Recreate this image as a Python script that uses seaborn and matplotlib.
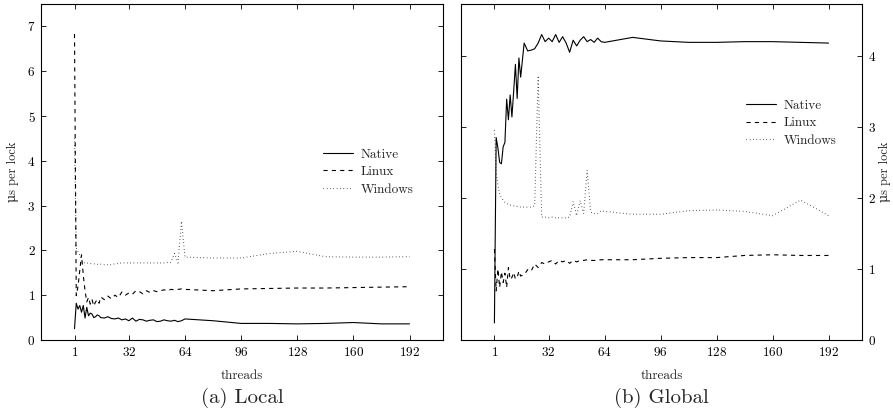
import matplotlib
matplotlib.use("Agg")
import numpy as np
import pandas as pd
import matplotlib.pyplot as plt
import seaborn as sns

threads = [1, 2, 3, 4, 5, 6, 7, 8, 9, 10, 11, 12, 13, 14, 15, 16,
           18, 20, 22, 24, 26, 28, 30, 32, 34, 36, 38, 40, 42, 44, 46, 48,
           50, 52, 54, 56, 58, 60, 62, 64,
           80, 96, 112, 128, 144, 160, 176, 192]

# (a) Local
local_native = [0.25, 0.82, 0.69, 0.77, 0.62, 0.77, 0.49, 0.73, 0.54, 0.6, 0.58, 0.5, 0.52, 0.56, 0.54, 0.5,
                0.49, 0.52, 0.48, 0.47, 0.49, 0.45, 0.47, 0.43, 0.49, 0.42, 0.46, 0.45, 0.42, 0.44, 0.45, 0.41,
                0.42, 0.45, 0.43, 0.42, 0.44, 0.41, 0.43, 0.47,
                0.43, 0.37, 0.37, 0.36, 0.37, 0.39, 0.36, 0.36]
local_linux = [6.83, 0.99, 1.2, 1.55, 1.9, 1.45, 1.1, 0.85, 0.95, 0.8, 0.9, 0.76, 0.85, 0.9, 0.82, 0.96,
               0.9, 0.98, 0.92, 1.0, 0.95, 1.07, 1.0, 1.05, 1.02, 1.1, 1.08, 1.03, 1.1, 1.06, 1.1, 1.08,
               1.1, 1.12, 1.1, 1.13, 1.12, 1.13, 1.14, 1.13,
               1.1, 1.14, 1.15, 1.16, 1.16, 1.17, 1.18, 1.19]
local_windows = [4.5, 2.05, 1.97, 1.9, 1.78, 1.73, 1.72, 1.72, 1.71, 1.71, 1.7, 1.7, 1.7, 1.69, 1.69, 1.69,
                 1.68, 1.68, 1.68, 1.7, 1.71, 1.72, 1.72, 1.72, 1.72, 1.72, 1.72, 1.72, 1.72, 1.72, 1.72, 1.72,
                 1.72, 1.72, 1.73, 1.73, 1.93, 1.72, 2.65, 1.85,
                 1.83, 1.83, 1.93, 1.98, 1.86, 1.85, 1.85, 1.86]

# (b) Global
global_native = [0.24, 2.85, 2.7, 2.5, 2.48, 2.72, 2.78, 3.39, 3.1, 3.45, 3.14, 3.5, 3.88, 3.4, 3.97, 3.7,
                 4.18, 4.07, 4.08, 4.1, 4.18, 4.3, 4.2, 4.25, 4.2, 4.3, 4.19, 4.27, 4.18, 4.05, 4.22, 4.14,
                 4.22, 4.27, 4.2, 4.23, 4.19, 4.25, 4.2, 4.19,
                 4.26, 4.21, 4.19, 4.19, 4.2, 4.2, 4.19, 4.18]
global_linux = [1.28, 0.69, 1.0, 0.74, 0.96, 0.81, 0.94, 0.74, 1.02, 0.85, 0.88, 0.95, 0.86, 0.88, 0.97, 0.9,
                0.92, 0.99, 0.97, 1.07, 1.02, 1.09, 1.07, 1.1, 1.12, 1.07, 1.12, 1.1, 1.12, 1.08, 1.12, 1.1,
                1.12, 1.12, 1.13, 1.12, 1.12, 1.12, 1.13, 1.13,
                1.13, 1.15, 1.16, 1.16, 1.19, 1.2, 1.19, 1.19]
global_windows = [2.95, 2.35, 2.18, 2.05, 2.0, 1.97, 1.94, 1.92, 1.91, 1.9, 1.9, 1.89, 1.89, 1.88, 1.88, 1.87,
                  1.87, 1.87, 1.87, 1.89, 3.72, 1.73, 1.73, 1.72, 1.73, 1.72, 1.72, 1.72, 1.72, 1.73, 1.95, 1.75,
                  1.96, 1.78, 2.39, 1.8, 1.78, 1.78, 1.82, 1.81,
                  1.77, 1.77, 1.82, 1.83, 1.81, 1.75, 1.97, 1.75]

systems = ["Native", "Linux", "Windows"]
xticks = [1, 32, 64, 96, 128, 160, 192]
ylabel = "\u03bcs per lock"


def long_df(native, linux, windows):
    parts = []
    for name, vals in zip(systems, [native, linux, windows]):
        parts.append(pd.DataFrame({"threads": threads, "us": vals, "system": name}))
    return pd.concat(parts, ignore_index=True)


sns.set_style("ticks")
plt.rcParams["font.family"] = ["cmr10", "DejaVu Serif"]
plt.rcParams["axes.formatter.use_mathtext"] = True
plt.rcParams["axes.linewidth"] = 0.8
plt.rcParams["axes.edgecolor"] = "black"

fig = plt.figure(figsize=(8.93, 4.13), dpi=100)
ax1 = fig.add_axes([41 / 893, 73 / 413, 402 / 893, 336 / 413])
ax2 = fig.add_axes([461 / 893, 73 / 413, 401 / 893, 336 / 413])

dashes = {"Native": "", "Linux": (3.75, 3.75), "Windows": (0.5, 2.5)}

panels = [
    (ax1, long_df(local_native, local_linux, local_windows), 7.5, range(0, 8), "(a) Local", (0.957, 0.5)),
    (ax2, long_df(global_native, global_linux, global_windows), 4.73, range(0, 5), "(b) Global", (0.967, 0.645)),
]

for ax, df, ytop, yt, caption, anchor in panels:
    sns.lineplot(data=df, x="threads", y="us", style="system", style_order=systems,
                 dashes=dashes, color="black", linewidth=0.8, ax=ax)
    ax.set_xlim(-18.1, 211.1)
    ax.set_ylim(0, ytop)
    ax.set_xticks(xticks)
    ax.set_yticks(list(yt))
    ax.tick_params(direction="in", length=3.5, width=0.6, labelsize=9.5, colors="black",
                   top=True, right=True, pad=4)
    ax.set_xlabel("threads", fontsize=9.5, labelpad=8)
    ax.set_ylabel(ylabel, fontsize=9, labelpad=6)
    h, l = ax.get_legend_handles_labels()
    ax.legend(handles=h, labels=l, loc="center right", bbox_to_anchor=anchor, frameon=False,
              fontsize=9.5, handlelength=2.3, handletextpad=0.6, labelspacing=0.4)
    pos = ax.get_position()
    fig.text(pos.x0 + pos.width / 2, 15 / 413, caption, ha="center", va="center", fontsize=15)

ax2.yaxis.tick_right()
ax2.tick_params(left=True, right=True, labelleft=False, labelright=True)
ax2.yaxis.set_label_position("right")
ax2.set_ylabel(ylabel, fontsize=9, labelpad=2)

fig.savefig("out.png", dpi=100)
